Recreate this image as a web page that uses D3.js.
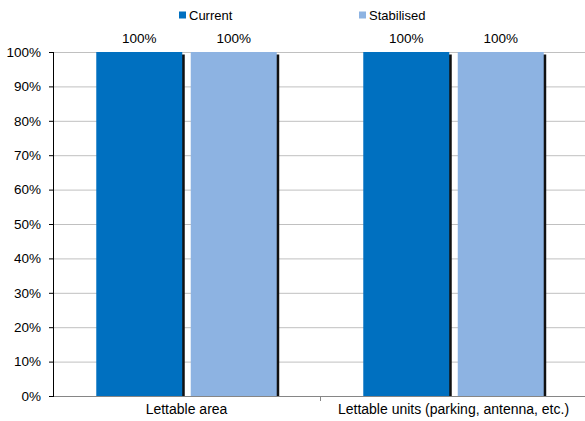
<!DOCTYPE html>
<html><head><meta charset="utf-8">
<script src="https://cdn.jsdelivr.net/npm/d3@7"></script>
<style>body{margin:0;background:#fff}svg{display:block;font-family:"Liberation Sans",Arial,sans-serif}</style>
</head><body>
<svg id="c" width="585" height="421"></svg>
<script>
const categories = ["Lettable area", "Lettable units (parking, antenna, etc.)"];
const seriesNames = ["Current", "Stabilised"];
const current = [100, 100];
const stabilised = [100, 100];
const yTicks = [0, 10, 20, 30, 40, 50, 60, 70, 80, 90, 100];
const colors = ["#0070C0", "#8DB3E2"];

(function () {
const svg = d3.select("#c");
const pL = 53, pR = 587, pT = 52, pB = 396;
const x = d3.scaleBand().domain(categories).range([pL, pR]);
const x1 = d3.scaleBand().domain(seriesNames).range([0, x.bandwidth()]).paddingInner(0.09).paddingOuter(0.458);
const y = d3.scaleLinear().domain([0, 100]).range([pB, pT]);

svg.append("g").selectAll("line").data(yTicks.slice(1)).join("line")
  .attr("x1", pL).attr("x2", pR).attr("y1", d => y(d) + 0.5).attr("y2", d => y(d) + 0.5)
  .attr("stroke", "#c0c0c0").attr("stroke-width", 1);

const data = categories.map((c, i) => ({cat: c, vals: [current[i], stabilised[i]]}));
const g = svg.append("g");
data.forEach(d => {
  d.vals.forEach((v, j) => {
    const bx = x(d.cat) + x1(seriesNames[j]);
    g.append("rect").attr("x", bx + 2.5).attr("y", y(v) + 2.5).attr("width", x1.bandwidth())
      .attr("height", pB - y(v)).attr("fill", "#111");
    g.append("rect").attr("x", bx).attr("y", y(v)).attr("width", x1.bandwidth())
      .attr("height", pB - y(v)).attr("fill", colors[j]);
    g.append("text").attr("x", bx + x1.bandwidth() / 2).attr("y", y(v) - 9)
      .attr("text-anchor", "middle").attr("font-size", 13.5).attr("fill", "#000").text(v + "%");
  });
});

svg.append("rect").attr("x", 0).attr("y", pB + 1).attr("width", 585).attr("height", 30).attr("fill", "#fff");

const xAxis = svg.append("g").attr("transform", `translate(0,${pB})`)
  .call(d3.axisBottom(x).tickSize(0).tickPadding(8));
xAxis.select(".domain").remove();
xAxis.selectAll("text").attr("font-size", 14).attr("fill", "#000").attr("font-family", "Liberation Sans, Arial, sans-serif");
svg.append("line").attr("x1", pL).attr("x2", pR).attr("y1", pB + 0.5).attr("y2", pB + 0.5)
  .attr("stroke", "#868686");
svg.append("line").attr("x1", x(categories[1]) + 0.5).attr("x2", x(categories[1]) + 0.5).attr("y1", pB).attr("y2", pB + 5)
  .attr("stroke", "#868686");

const yAxis = svg.append("g").attr("transform", `translate(${pL},0)`)
  .call(d3.axisLeft(y).tickValues(yTicks).tickSize(4).tickPadding(8).tickFormat(d => d + "%"));
yAxis.select(".domain").attr("stroke", "#000").attr("d", `M0.5,${pT}V${pB + 1}`);
yAxis.selectAll(".tick line").attr("stroke", "#000");
yAxis.selectAll("text").attr("font-size", 13.5).attr("fill", "#000").attr("font-family", "Liberation Sans, Arial, sans-serif");

const legendX = [179, 359];
seriesNames.forEach((s, j) => {
  svg.append("rect").attr("x", legendX[j]).attr("y", 11.5).attr("width", 7).attr("height", 7).attr("fill", colors[j]);
  svg.append("text").attr("x", legendX[j] + 10).attr("y", 19.5).attr("font-size", 13).attr("fill", "#000").text(s);
});
})();
</script>
</body></html>
